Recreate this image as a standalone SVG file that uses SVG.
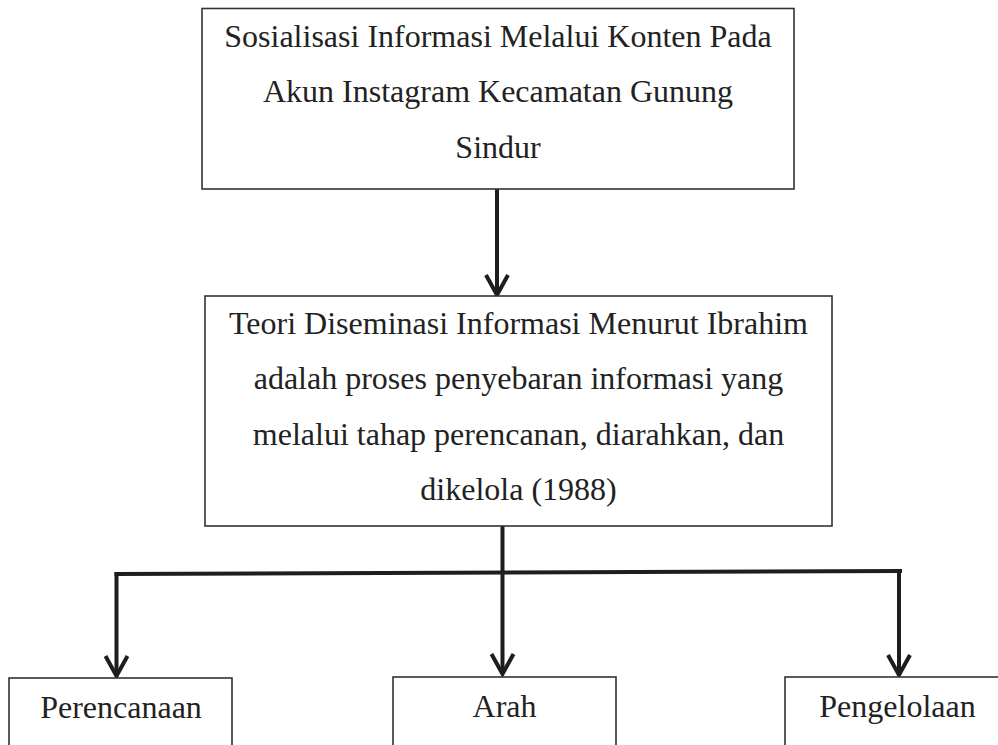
<svg xmlns="http://www.w3.org/2000/svg" width="998" height="745" viewBox="0 0 998 745">
<style>
.box{fill:#fff;stroke:#333;stroke-width:1.6}
.t{font-family:"Liberation Serif","Times New Roman",serif;font-size:32px;fill:#222;text-anchor:middle}
.c{fill:none;stroke:#1e1e1e;stroke-width:4}
</style>
<defs>
<marker id="arr" markerUnits="userSpaceOnUse" viewBox="-26 -16 30 32" refX="0" refY="0" markerWidth="30" markerHeight="32" orient="auto">
<path d="M-20,-11 L0,0 L-20,11" fill="none" stroke="#1e1e1e" stroke-width="4"/>
</marker>
</defs>
<rect width="998" height="745" fill="#fff"/>
<g id="connectors">
<path class="c" d="M497,189 L497,295" marker-end="url(#arr)"/>
<path class="c" d="M502.5,526 L502.5,572.5"/>
<path class="c" d="M114.5,574 L902,571"/>
<path class="c" d="M116.5,572 L116.5,676" marker-end="url(#arr)"/>
<path class="c" d="M502.5,572 L502.5,674" marker-end="url(#arr)"/>
<path class="c" d="M899,571 L899,675" marker-end="url(#arr)"/>
</g>
<g id="node-sosialisasi">
<rect class="box" x="202" y="8.5" width="592" height="180.5"/>
<text class="t" x="498" y="47">Sosialisasi Informasi Melalui Konten Pada</text>
<text class="t" x="498" y="102">Akun Instagram Kecamatan Gunung</text>
<text class="t" x="498" y="158">Sindur</text>
</g>
<g id="node-teori">
<rect class="box" x="205" y="296" width="627" height="230"/>
<text class="t" x="518.5" y="334">Teori Diseminasi Informasi Menurut Ibrahim</text>
<text class="t" x="518.5" y="389">adalah proses penyebaran informasi yang</text>
<text class="t" x="518.5" y="445">melalui tahap perencanan, diarahkan, dan</text>
<text class="t" x="518.5" y="500">dikelola (1988)</text>
</g>
<g id="node-perencanaan">
<rect class="box" x="9" y="678" width="223" height="90"/>
<text class="t" x="121" y="718">Perencanaan</text>
</g>
<g id="node-arah">
<rect class="box" x="393" y="677" width="223" height="90"/>
<text class="t" x="504.5" y="717">Arah</text>
</g>
<g id="node-pengelolaan">
<rect class="box" x="785" y="677" width="240" height="90"/>
<text class="t" x="897.5" y="717">Pengelolaan</text>
</g>
</svg>
